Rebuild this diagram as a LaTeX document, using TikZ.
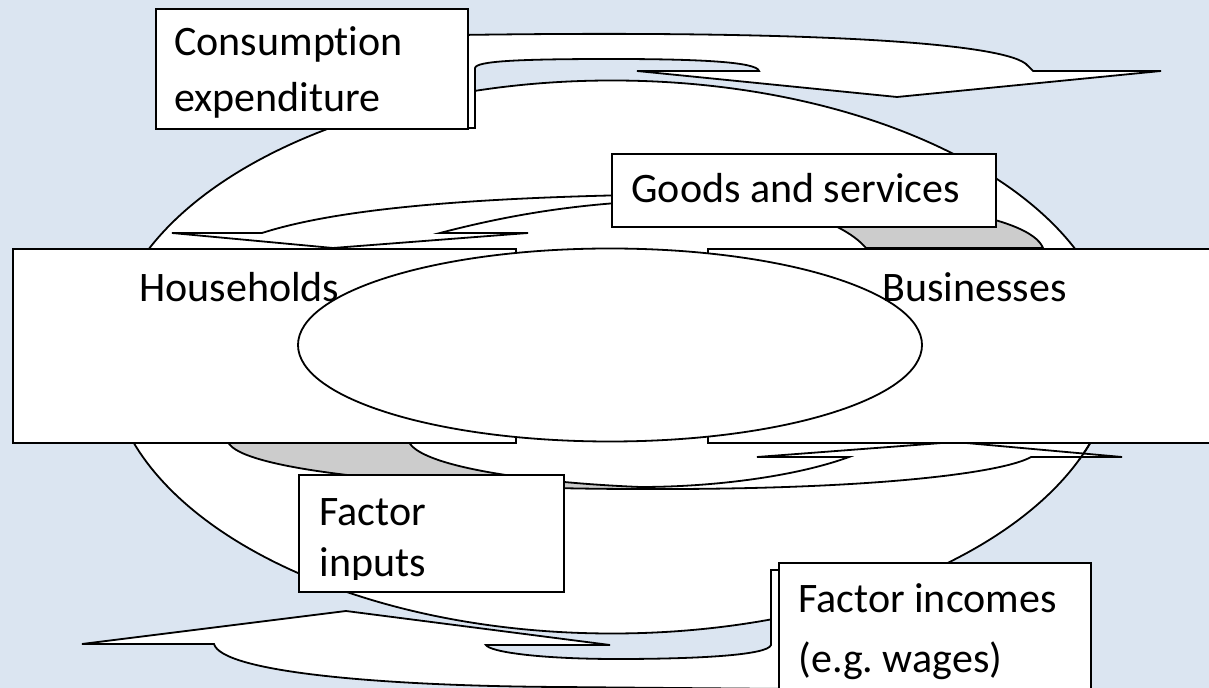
\documentclass[tikz,border=0pt]{standalone}
\usepackage{fontspec}
\setmainfont{Carlito}[Ligatures=NoCommon]
\frenchspacing
\usetikzlibrary{positioning}

\definecolor{paleblue}{RGB}{219,229,241}
\definecolor{backgrey}{RGB}{204,204,204}

\begin{document}
\begin{tikzpicture}[x=0.5pt, y=-0.5pt,
  box/.style={draw, fill=white, line width=0.9pt, inner sep=0pt, anchor=north west},
  lbl/.style={font=\fontsize{21}{28}\selectfont, inner sep=0pt, align=left, anchor=base west},
  band/.style={draw, fill=white, line width=0.9pt},
  backband/.style={band, fill=backgrey}]
\fill[paleblue] (0,0) rectangle (1209,688);
\useasboundingbox (0,0) rectangle (1209,688);

% outer loop
\draw[band] (612,357) ellipse [x radius=503, y radius=276.5];

% spending over the top
\draw[band] (460,35) .. controls (800,30) and (1010,42) .. (1028,66) -- (1033,71) -- (1161,71) -- (897,97) -- (637,71) -- (759,71)
  .. controls (757,62) and (700,59) .. (612,59) .. controls (520,59) and (476,61) .. (475,68) -- (475,128) -- (460,128) -- cycle;

% incomes underneath
\draw[band] (790,570) -- (771,570) -- (771,645) .. controls (768,655) and (700,659) .. (617,659)
  .. controls (540,659) and (490,652) .. (486,645) -- (610,645) -- (346,611) -- (82,644) -- (214,644)
  .. controls (222,672) and (380,686) .. (560,687) -- (790,689) -- cycle;

% goods and services
\draw[backband] (700,194) .. controls (900,194) and (1030,215) .. (1043,248) -- (866,248)
  .. controls (840,218) and (770,200) .. (700,200) -- cycle;
\draw[band] (700,194) .. controls (480,196) and (340,208) .. (262,233) -- (172,233) -- (333,248) -- (528,233) -- (440,233)
  .. controls (520,212) and (600,200) .. (700,200) -- cycle;

% factor inputs
\draw[backband] (228,442) .. controls (240,470) and (420,489) .. (640,489) -- (640,487)
  .. controls (520,482) and (420,465) .. (409,442) -- cycle;
\draw[band] (640,489) .. controls (880,490) and (1005,472) .. (1031,457) -- (1122,457) -- (955,442) -- (757,457) -- (849,457)
  .. controls (800,475) and (720,487) .. (640,487) -- cycle;
% outer loop still shows through the arrow head
\begin{scope}
  \clip (1040,440) rectangle (1130,460);
  \draw[line width=0.9pt] (612,357) ellipse [x radius=503, y radius=276.5];
\end{scope}

\node[box, minimum width=251.5pt, minimum height=97pt] (hh) at (12,248) {};
\node[box, minimum width=262pt, minimum height=97pt] (biz) at (707,248) {};

% inner loop
\draw[band] (610,345) ellipse [x radius=312, y radius=96.5];

\node[box, minimum width=192pt, minimum height=36.5pt] (goods) at (611,153) {};
\node[box, minimum width=156pt, minimum height=60pt] (cons) at (155,8) {};
\node[box, minimum width=132.5pt, minimum height=58.5pt] (inputs) at (298,474) {};
\node[box, minimum width=156pt, minimum height=70pt] (incomes) at (778,562) {};

% base sits on the last line
\node[lbl] (consT) at (174,112) {Consumption\\expenditure};
\node[lbl] (goodsT) at (631,203) {Goods and services};
\node[lbl] (hhT) at (139,302) {Households};
\node[lbl] (bizT) at (882,302) {Businesses};
\begin{scope}
  \clip (298,474) rectangle (563,580);
  \node[lbl] (inputsT) at (319,577) {Factor\\[-2.5pt]inputs};
\end{scope}
\node[lbl] (incomesT) at (798,672) {Factor incomes\\[1.5pt](e.g. wages)};
\end{tikzpicture}
\end{document}
